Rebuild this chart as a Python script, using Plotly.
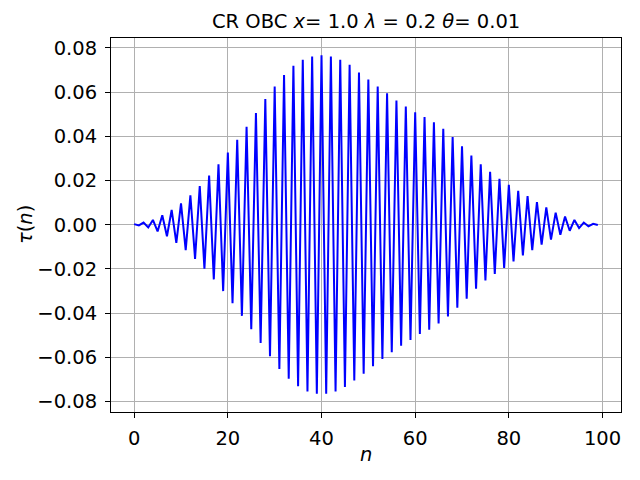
import plotly.graph_objects as go

# tau(n), n = 0..99
n = list(range(100))
tau = [
    0.0003, -0.0003, 0.0010, -0.0012, 0.0022, -0.0030, 0.0043, -0.0052, 0.0067, -0.0082,
    0.0097, -0.0115, 0.0133, -0.0154, 0.0175, -0.0199, 0.0223, -0.0247, 0.0274, -0.0300,
    0.0327, -0.0355, 0.0385, -0.0412, 0.0443, -0.0472, 0.0506, -0.0535, 0.0569, -0.0595,
    0.0626, -0.0652, 0.0677, -0.0697, 0.0719, -0.0731, 0.0746, -0.0754, 0.0761, -0.0764,
    0.0767, -0.0764, 0.0761, -0.0754, 0.0746, -0.0734, 0.0724, -0.0704, 0.0689, -0.0674,
    0.0657, -0.0640, 0.0625, -0.0607, 0.0595, -0.0577, 0.0562, -0.0547, 0.0535, -0.0521,
    0.0509, -0.0494, 0.0487, -0.0475, 0.0464, -0.0446, 0.0434, -0.0415, 0.0397, -0.0375,
    0.0355, -0.0334, 0.0313, -0.0289, 0.0274, -0.0252, 0.0240, -0.0222, 0.0208, -0.0195,
    0.0181, -0.0166, 0.0154, -0.0139, 0.0130, -0.0115, 0.0103, -0.0090, 0.0079, -0.0067,
    0.0055, -0.0045, 0.0037, -0.0027, 0.0022, -0.0015, 0.0010, -0.0007, 0.0004, -0.0001,
]
x_ticks = [0, 20, 40, 60, 80, 100]
y_ticks = [-0.08, -0.06, -0.04, -0.02, 0.0, 0.02, 0.04, 0.06, 0.08]

font = "DejaVu Sans"
fsize = 19.5

fig = go.Figure()
fig.add_trace(go.Scatter(x=n, y=tau, mode="lines",
                         line=dict(color="#0000ff", width=2)))

axis_common = dict(
    showline=True, linecolor="black", linewidth=1, mirror=True,
    ticks="outside", ticklen=5, tickwidth=1, tickcolor="black",
    showgrid=True, gridcolor="#b0b0b0", gridwidth=1,
    zeroline=False, automargin=False,
    tickfont=dict(family=font, size=fsize, color="black"),
)

fig.update_xaxes(range=[-4.95, 103.95], tickvals=x_ticks,
                 ticklabelstandoff=4, **axis_common)
fig.update_yaxes(range=[-0.0847, 0.0845], tickvals=y_ticks, tickformat=".2f",
                 ticklabelstandoff=4, **axis_common)

# the page body has an 8px margin, so the figure is 8px smaller and shifted
fig.update_layout(
    width=632, height=472,
    margin=dict(l=103, r=19, t=30, b=68),
    paper_bgcolor="white", plot_bgcolor="white",
    showlegend=False,
    font=dict(family=font, color="black"),
    annotations=[
        dict(text="CR OBC <i>x</i>= 1.0 <i>λ</i> = 0.2 <i>θ</i>= 0.01",
             x=0.5, xref="paper", y=1.0, yref="paper", yanchor="bottom", yshift=3,
             showarrow=False, font=dict(family=font, size=fsize)),
        dict(text="<i>n</i>", x=0.5, xref="paper", y=0, yref="paper",
             yanchor="middle", yshift=-42,
             showarrow=False, font=dict(family=font, size=fsize)),
        dict(text="<i>τ</i>(<i>n</i>)", x=0, xref="paper", y=0.5, yref="paper",
             xanchor="center", xshift=-86,
             showarrow=False, textangle=-90, font=dict(family=font, size=fsize)),
    ],
)

fig.write_html("out.html")
